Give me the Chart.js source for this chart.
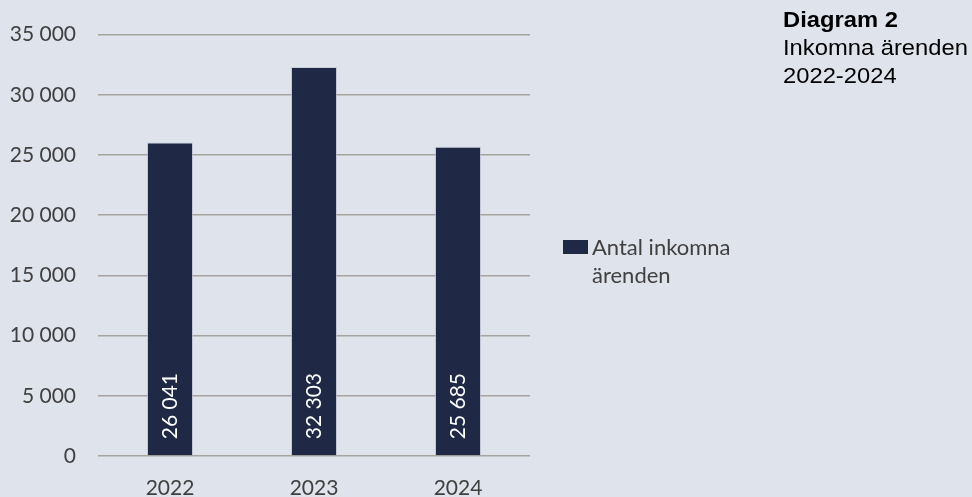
<!DOCTYPE html>
<html>
<head>
<meta charset="utf-8">
<script src="https://cdn.jsdelivr.net/npm/chart.js@4"></script>
<style>
  html, body { margin: 0; padding: 0; background: #dfe3eb; }
  #wrap { position: relative; width: 972px; height: 497px; overflow: hidden; }
  canvas { position: absolute; left: 0; top: 0; }
  #title { position: absolute; left: 783px; top: 6px; font-family: "Liberation Sans", Arial, sans-serif; font-size: 22px; line-height: 28px; color: #000; transform: scaleX(1.08); transform-origin: left top; white-space: nowrap; }
  #title b { font-weight: bold; }
</style>
</head>
<body>
<div id="wrap">
  <canvas id="c" width="972" height="497"></canvas>
  <div id="title"><b>Diagram 2</b><br>Inkomna ärenden<br>2022-2024</div>
</div>
<script>
const categories = ["2022", "2023", "2024"];
const seriesLabel = "Antal inkomna ärenden";
const legendLines = ["Antal inkomna", "ärenden"];
const values = [26041, 32303, 25685];
const yTicks = [0, 5000, 10000, 15000, 20000, 25000, 30000, 35000];

const FONT = "Lato, 'Open Sans', sans-serif";
const TEXT = "#404040";
const BAR = "#1f2945";

function fmt(n) {
  return String(n).replace(/\B(?=(\d{3})+(?!\d))/g, " ");
}

const barLabels = {
  id: "barLabels",
  afterDatasetsDraw(chart) {
    const ctx = chart.ctx;
    const meta = chart.getDatasetMeta(0);
    ctx.save();
    ctx.fillStyle = "#ffffff";
    ctx.font = "21px " + FONT;
    ctx.textAlign = "left";
    ctx.textBaseline = "middle";
    meta.data.forEach((bar, i) => {
      ctx.save();
      ctx.translate(bar.x, bar.base - 16);
      ctx.rotate(-Math.PI / 2);
      ctx.fillText(fmt(values[i]), 0, 0);
      ctx.restore();
    });
    ctx.restore();
  }
};

const customLegend = {
  id: "customLegend",
  afterDraw(chart) {
    const ctx = chart.ctx;
    ctx.save();
    ctx.fillStyle = BAR;
    ctx.fillRect(563, 240, 25, 14);
    ctx.fillStyle = TEXT;
    ctx.font = "22px " + FONT;
    ctx.textAlign = "left";
    ctx.textBaseline = "alphabetic";
    ctx.fillText(legendLines[0], 592, 255);
    ctx.fillText(legendLines[1], 592, 283);
    ctx.restore();
  }
};

new Chart(document.getElementById("c"), {
  type: "bar",
  data: {
    labels: categories,
    datasets: [{
      label: seriesLabel,
      data: values,
      backgroundColor: BAR,
      borderColor: "rgba(190,198,215,0.7)",
      borderWidth: 1,
      barPercentage: 0.32,
      categoryPercentage: 1.0
    }]
  },
  options: {
    responsive: false,
    animation: false,
    layout: { padding: { left: 0, right: 442, top: 33, bottom: 0 } },
    plugins: {
      legend: { display: false },
      tooltip: { enabled: false }
    },
    scales: {
      x: {
        grid: { display: false, drawTicks: false },
        border: { display: false },
        ticks: { color: TEXT, font: { family: FONT, size: 21 }, padding: 20 },
        afterFit(s) { s.height = 41; }
      },
      y: {
        min: 0,
        max: 35000,
        afterBuildTicks(s) { s.ticks = yTicks.map(v => ({ value: v })); },
        grid: { color: "#a6a49e", lineWidth: 1.5, drawTicks: false },
        border: { display: false },
        ticks: {
          color: TEXT,
          font: { family: FONT, size: 21 },
          padding: 22,
          callback: v => fmt(v)
        },
        afterFit(s) { s.width = 98; }
      }
    }
  },
  plugins: [barLabels, customLegend]
});
</script>
</body>
</html>
